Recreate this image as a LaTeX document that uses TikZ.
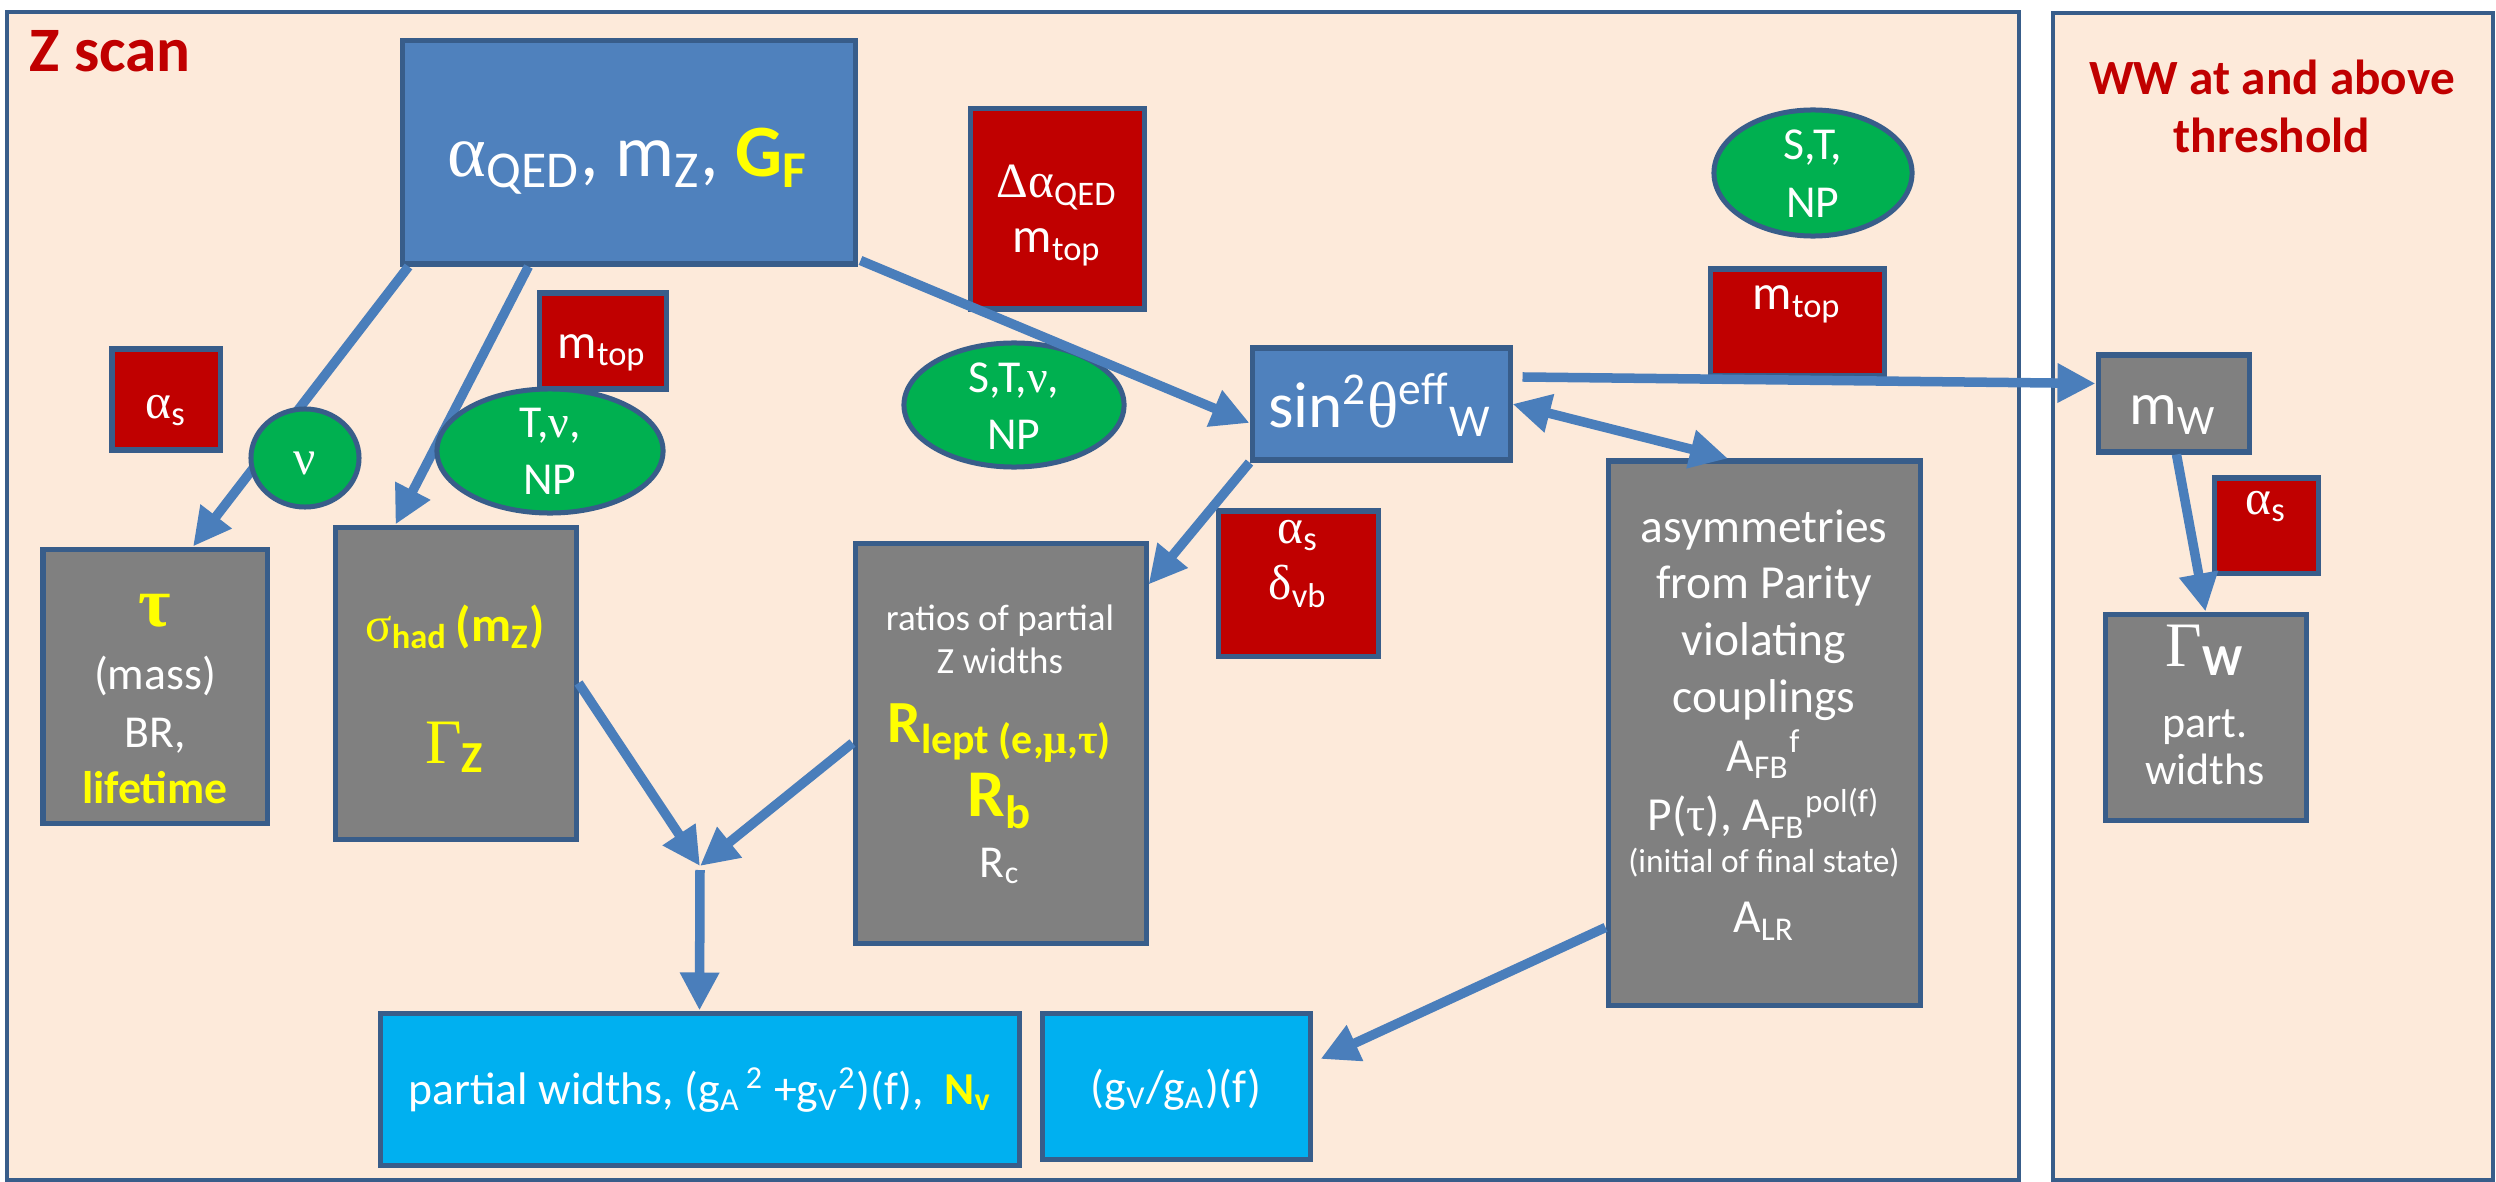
\documentclass[tikz,border=0pt]{standalone}
\usepackage{fontspec}
\setmainfont{Carlito}
\newfontfamily\grk{Liberation Serif}
\usetikzlibrary{arrows.meta,fit,shapes.geometric}
\definecolor{peach}{HTML}{FDEADA}
\definecolor{edge}{HTML}{385D8A}
\definecolor{steel}{HTML}{4F81BD}
\definecolor{arrblue}{HTML}{4A7EBB}
\definecolor{darkred}{HTML}{C00000}
\definecolor{leaf}{HTML}{00B050}
\definecolor{slate}{HTML}{808080}
\definecolor{sky}{HTML}{00B0F0}
\definecolor{hiyel}{HTML}{FFFF00}
\newcommand{\gk}[1]{{\grk #1}}
\newcommand{\sub}[1]{\textsubscript{#1}}
\newcommand{\sur}[1]{\textsuperscript{#1}}
\newcommand{\fsize}[2]{\fontsize{#1}{#2}\selectfont}
\newcommand{\txtrows}[1]{\begin{tabular}[t]{@{}c@{}}#1\end{tabular}}
\tikzset{
	pbox/.style={draw=edge, line width=0.05cm, inner sep=0pt},
	bluebox/.style={pbox, fill=steel},
	redbox/.style={pbox, fill=darkred},
	greybox/.style={pbox, fill=slate},
	skybox/.style={pbox, fill=sky},
	greenell/.style={ellipse, draw=edge, line width=0.05cm, fill=leaf, inner sep=0pt},
	panel/.style={draw=edge, line width=0.045cm, fill=peach},
	lbl/.style={text=white, inner sep=0pt, anchor=base},
	flow/.style={draw=arrblue, line width=0.095cm, -{Triangle[length=0.38cm,width=0.37cm]}},
	flowboth/.style={flow, {Triangle[length=0.38cm,width=0.37cm]}-{Triangle[length=0.38cm,width=0.37cm]}},
}

\begin{document}
\begin{tikzpicture}[x=0.01cm,y=-0.01cm]
			%%%%% START %%%%%
			\useasboundingbox (0,0) rectangle (2496,1182);
			
			\draw[panel] (7,12) rectangle (2019,1180);
			\draw[panel] (2053,13) rectangle (2493,1180);
			\node[anchor=base west, inner sep=0pt, text=darkred, font=\fsize{18}{20}\bfseries] (zscan) at (29,72) {Z scan};
			\node[align=center, inner sep=0pt, text=darkred, font=\fsize{14}{16.5}\bfseries] (wwhead) at (2272,106) {WW at and above\\threshold};
			
			% boxes
			\node[bluebox, fit={(402,41) (855,264)}] (qed) {};
			\node[redbox, fit={(970,109) (1144,309)}] (dalpha) {};
			\node[redbox, fit={(539,293) (666,389)}] (mtopL) {};
			\node[redbox, fit={(112,349) (220,450)}] (asL) {};
			\node[redbox, fit={(1710,269) (1884,376)}] (mtopR) {};
			\node[redbox, fit={(1218,511) (1378,656)}] (asdv) {};
			\node[redbox, fit={(2214,478) (2318,573)}] (asR) {};
			\node[greenell, minimum width=2.20cm, minimum height=1.24cm] (stnunp) at (1014,405) {};
			\node[greenell, minimum width=1.98cm, minimum height=1.26cm] (stnp) at (1813,173) {};
			\node[bluebox, fit={(1252,348) (1510,460)}] (sinw) {};
			\node[greybox, fit={(43,549) (267,823)}] (tau) {};
			\node[greybox, fit={(335,527) (576,839)}] (sigma) {};
			\node[greybox, fit={(855,543) (1146,943)}] (ratios) {};
			\node[greybox, fit={(1608,461) (1920,1005)}] (asym) {};
			\node[greybox, fit={(2098,355) (2249,452)}] (mW) {};
			\node[greybox, fit={(2105,614) (2306,820)}] (GW) {};
			\node[skybox, fit={(380,1013) (1019,1165)}] (partial) {};
			\node[skybox, fit={(1042,1013) (1310,1159)}] (gva) {};
			
			% texts
			\node[lbl, font=\fsize{21}{25}] (qedt) at (628,177) {\gk{α}\sub{QED}, m\sub{Z}, \textcolor{hiyel}{\bfseries G\sub{F}}};
			\node[lbl, font=\fsize{14}{15.6}] (dalphat) at (1057,198) {\txtrows{\gk{Δα}\sub{QED}\\m\sub{top}}};
			\node[lbl, font=\fsize{14}{16}] (mtopLt) at (602,358) {m\sub{top}};
			\node[lbl, font=\fsize{14}{16}] (asLt) at (166,418) {\gk{α}\sub{s}};
			\node[lbl, font=\fsize{14}{16}] (mtopRt) at (1797,310) {m\sub{top}};
			\node[lbl, font=\fsize{14}{16.2}] (asdvt) at (1298,543) {\txtrows{\gk{α}\sub{s}\\\gk{δ}\sub{vb}}};
			\node[lbl, font=\fsize{14}{16}] (asRt) at (2266,514) {\gk{α}\sub{s}};
			\node[lbl, font=\fsize{13}{16.2}] (stnunpt) at (1014,393) {\txtrows{S,T,\gk{ν},\\NP}};
			\node[lbl, font=\fsize{13}{16.4}] (stnpt) at (1813,160) {\txtrows{S,T,\\NP}};
			\node[lbl, font=\fsize{18.5}{22}] (sinwt) at (1380,427) {sin\sur{2}\gk{θ}\sur{eff}\sub{W}};
			\node[lbl, font=\fsize{13}{16}] (taut) at (155,626) {\txtrows{{\fsize{20}{20}\bfseries\color{hiyel}\gk{τ}}\\[0.07cm](mass)\\[0.02cm]BR,\\{\bfseries\color{hiyel}lifetime}}};
			\node[lbl, font=\fsize{14}{16}] (sigmat) at (455,641) {\txtrows{{\color{hiyel}\gk{σ}\sub{\bfseries had}\,\bfseries(m\sub{Z})}\\[0.64cm]{\fsize{18}{20}\color{hiyel}\gk{Γ}\sub{\bfseries Z}}}};
			\node[lbl, font=\fsize{10.5}{12.5}] (ratiost) at (1000,630) {\txtrows{ratios of partial\\Z widths\\[0.17cm]{\fsize{17}{18}\bfseries\color{hiyel}R\sub{lept (e,\gk{μ},\gk{τ})}}\\[0.17cm]{\fsize{19}{20}\bfseries\color{hiyel}R\sub{b}}\\[0.17cm]{\fsize{13}{14}R\sub{c}}}};
			\node[lbl, font=\fsize{13.5}{16.2}] (asymt) at (1764,542) {\txtrows{asymmetries\\from Parity\\violating\\couplings\\A\sub{FB}\sur{f}\\P(\gk{τ}), A\sub{FB}\sur{pol(f)}\\[-0.15cm]{\fsize{9.5}{11}(initial of final state)}\\[0.03cm]A\sub{LR}}};
			\node[lbl, font=\fsize{17}{18}] (mWt) at (2173,425) {m\sub{W}};
			\node[lbl, font=\fsize{12.5}{13.5}] (GWt) at (2205,666) {\txtrows{{\fsize{18}{20}\gk{Γ}\sub{\bfseries W}}\\[0.24cm]part.\\widths}};
			\node[lbl, font=\fsize{13}{16}] (partialt) at (700,1104) {partial widths, (g\sub{A}\sur{\,2} +g\sub{V}\sur{2})(f),\ \ \textcolor{hiyel}{\bfseries N\sub{v}}};
			\node[lbl, font=\fsize{13}{16}] (gvat) at (1176,1102) {(g\sub{V}/g\sub{A})(f)};
			
			% connectors
			\coordinate (merge) at (700,866);
			\draw[flow] ([xshift=0.09cm]qed.south west) -- ([xshift=0.38cm]tau.north);
			\draw[flow] ([xshift=-1.0cm]qed.south) -- ([xshift=-0.6cm]sigma.north);
			\draw[flow] ([xshift=0.03cm,yshift=0.06cm]qed.south east) -- ([yshift=-0.19cm]sinw.west);
			\draw[flow] ([xshift=0.1cm,yshift=0.27cm]sinw.east) -- ([yshift=0.2cm]mW.west);
			\draw[flowboth] (sinw.east) -- ([xshift=-0.36cm]asym.north);
			\draw[flow] (sinw.south west) -- ([yshift=-0.44cm]ratios.north east);
			\draw[flow] (sigma.east) -- (merge);
			\draw[flow] (ratios.west) -- (merge);
			\draw[flow] ([yshift=-0.04cm]merge) -- (partial.north);
			\draw[flow] ([yshift=0.80cm]asym.south west) -- ([xshift=0.08cm,yshift=0.27cm]gva.east);
			\draw[flow] ([xshift=0.03cm]mW.south) -- (GW.north);
			
			% green blobs over the first two arrows
			\node[greenell, minimum width=1.08cm, minimum height=0.98cm] (nuell) at (305,458) {};
			\node[greenell, minimum width=2.26cm, minimum height=1.24cm] (tnunp) at (550,451) {};
			\node[lbl, font=\fsize{14}{16}] (nuellt) at (305,474) {\gk{ν}};
			\node[lbl, font=\fsize{13}{16.4}] (tnunpt) at (550,437) {\txtrows{T,\gk{ν},\\NP}};
			
			%%%%% END %%%%%
\end{tikzpicture}
\end{document}
